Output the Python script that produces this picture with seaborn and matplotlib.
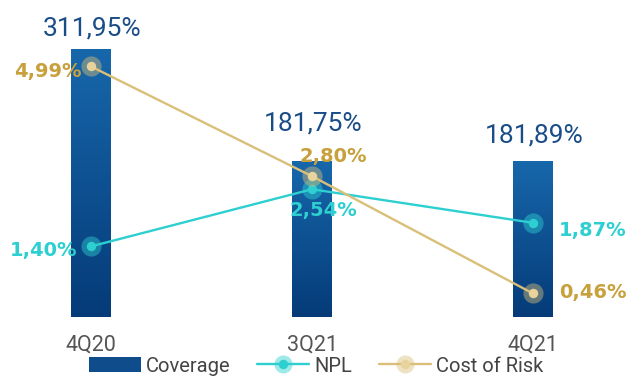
import numpy as np
import pandas as pd
import matplotlib
matplotlib.use("Agg")
import matplotlib.pyplot as plt
import seaborn as sns
from matplotlib.lines import Line2D
from matplotlib.patches import Patch
from matplotlib.colors import LinearSegmentedColormap

# ---- data ----
quarters = ["4Q20", "3Q21", "4Q21"]
coverage = [311.95, 181.75, 181.89]
npl = [1.40, 2.54, 1.87]
cost_of_risk = [4.99, 2.80, 0.46]

def fmt(v):
    return f"{v:.2f}".replace(".", ",") + "%"

# ---- style ----
sns.set_theme(style="white")
plt.rcParams["font.family"] = ["Roboto", "DejaVu Sans"]

BAR_TOP = "#1767ab"
BAR_BOT = "#053b78"
COV_TXT = "#1a4d88"
NPL_C = "#2dcfd0"
NPL_TXT = "#2ecfd0"
COR_LINE = "#d9bf78"
COR_DOT = "#e8d39c"
COR_TXT = "#c8a03c"

df = pd.DataFrame({"quarter": quarters, "coverage": coverage,
                   "npl": npl, "cor": cost_of_risk})

fig = plt.figure(figsize=(6.32, 3.76), dpi=100)
ax = fig.add_axes([0, 0.1582, 1, 0.8418])

sns.barplot(data=df, x="quarter", y="coverage", ax=ax, width=0.181,
            color=BAR_BOT, saturation=1, errorbar=None)

# gradient fill for bars
cmap = LinearSegmentedColormap.from_list("g", [BAR_TOP, BAR_BOT])
grad = np.linspace(0, 1, 256).reshape(-1, 1)
for p in list(ax.patches):
    x0, y0, w, h = p.get_x(), p.get_y(), p.get_width(), p.get_height()
    im = ax.imshow(grad, cmap=cmap, aspect="auto", origin="upper",
                   extent=[x0, x0 + w, y0, y0 + h], zorder=p.get_zorder() + 0.1)
    im.set_clip_path(p)

# coverage labels
cov_dy = [10, 22, 13]
for i, (p, v) in enumerate(zip(ax.patches, coverage)):
    ax.annotate(fmt(v), xy=(p.get_x() + p.get_width() / 2, p.get_height()),
                xytext=(1, cov_dy[i]), textcoords="offset points",
                ha="center", va="baseline", fontsize=19, fontweight="normal",
                color=COV_TXT, zorder=5)

ax2 = ax.twinx()

def draw_series(col, line_c, dot_c, halo_c):
    sns.pointplot(data=df, x="quarter", y=col, ax=ax2, color=halo_c,
                  markers="o", linestyles="none", markersize=14.5, alpha=0.45,
                  errorbar=None, markeredgewidth=0)
    sns.pointplot(data=df, x="quarter", y=col, ax=ax2, color=line_c,
                  markers="none", linestyles="-", linewidth=1.7, errorbar=None)
    sns.pointplot(data=df, x="quarter", y=col, ax=ax2, color=dot_c,
                  markers="o", linestyles="none", markersize=6.8,
                  errorbar=None, markeredgewidth=0)

draw_series("npl", NPL_C, NPL_C, NPL_C)
draw_series("cor", COR_LINE, COR_DOT, COR_LINE)

npl_off = [(-10, -7.2, "right"), (7.9, -19.4, "center"), (18.7, -9.4, "left")]
cor_off = [(-6.5, -7.9, "right"), (15.1, 10.1, "center"), (18.7, -3.6, "left")]
for i, v in enumerate(npl):
    dx, dy, ha = npl_off[i]
    ax2.annotate(fmt(v), xy=(i, v), xytext=(dx, dy), textcoords="offset points",
                 ha=ha, va="baseline", fontsize=14, fontweight="bold",
                 family="DejaVu Sans", color=NPL_TXT, zorder=6)
for i, v in enumerate(cost_of_risk):
    dx, dy, ha = cor_off[i]
    ax2.annotate(fmt(v), xy=(i, v), xytext=(dx, dy), textcoords="offset points",
                 ha=ha, va="baseline", fontsize=14, fontweight="bold",
                 family="DejaVu Sans", color=COR_TXT, zorder=6)

# axes limits / cosmetics
for a in (ax, ax2):
    a.set_xlim(-0.412, 2.448)
    a.set_xlabel("")
    a.set_ylabel("")
    a.set_yticks([])
    for s in a.spines.values():
        s.set_visible(False)
ax.set_ylim(0, 369.1)
ax2.set_ylim(0, 6.317)
ax.tick_params(axis="x", length=0, pad=13, labelsize=15.5, labelcolor="#555555")
ax2.tick_params(axis="x", length=0, labelbottom=False)

# legend
h_cov = Patch(facecolor="#0f4c8c", edgecolor="none")
def line_handle(line_c, dot_c, halo_c):
    halo = Line2D([], [], color=halo_c, marker="o", linestyle="none",
                  markersize=13, alpha=0.45, markeredgewidth=0)
    ln = Line2D([], [], color=line_c, linewidth=1.7, marker="o",
                markersize=6.8, markerfacecolor=dot_c, markeredgewidth=0)
    return (halo, ln)

fig.legend([h_cov, line_handle(NPL_C, NPL_C, NPL_C),
            line_handle(COR_LINE, COR_DOT, COR_LINE)],
           ["Coverage", "NPL", "Cost of Risk"],
           loc="center", bbox_to_anchor=(0.5, 1 - 366 / 376), ncol=3,
           frameon=False, fontsize=14.5, handlelength=2.6, handleheight=0.7,
           handletextpad=0.25, columnspacing=1.3, labelcolor="#444444")

fig.savefig("out.png", dpi=100)
